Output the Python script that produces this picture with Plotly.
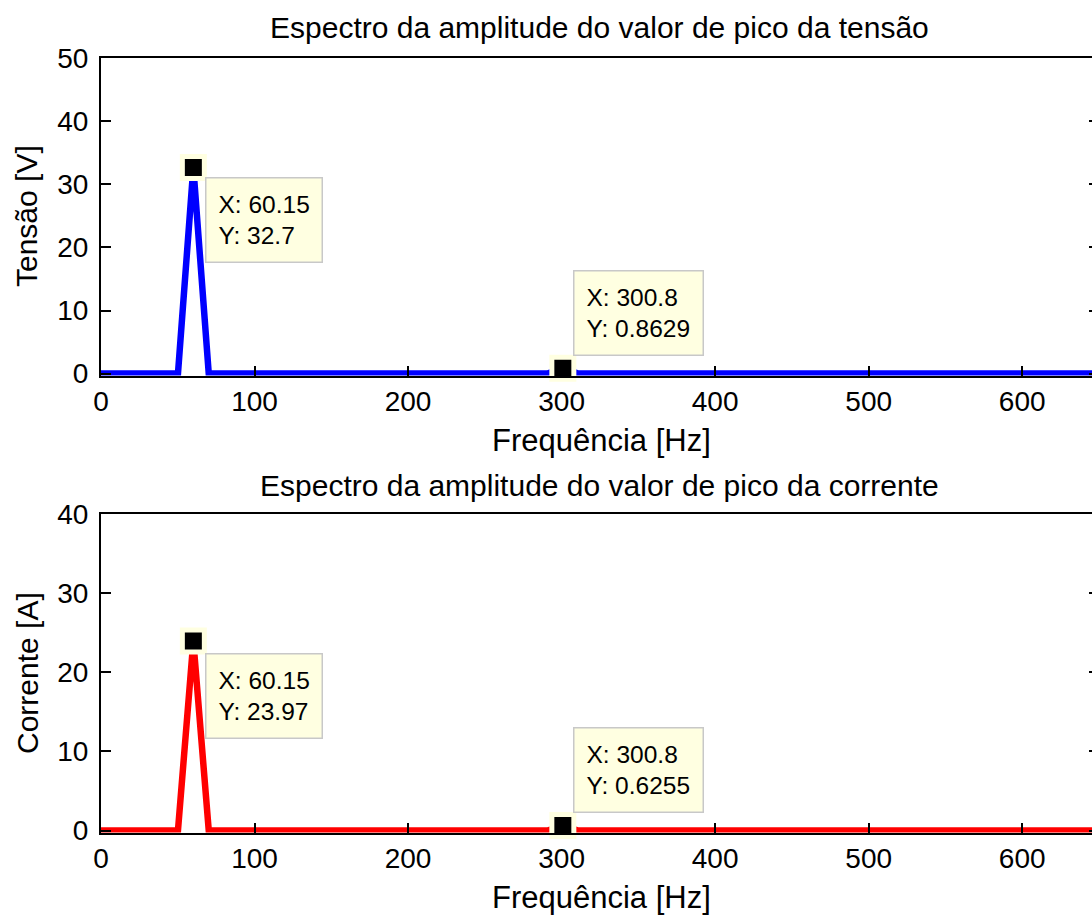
import plotly.graph_objects as go

# ---------------- data ----------------
freq_v = [0.0, 50.125, 60.15, 70.175, 290.775, 300.8, 310.825, 660.0]
amp_v = [0.0, 0.0, 32.7, 0.0, 0.0, 0.8629, 0.0, 0.0]
freq_i = [0.0, 50.125, 60.15, 70.175, 290.775, 300.8, 310.825, 660.0]
amp_i = [0.0, 0.0, 23.97, 0.0, 0.0, 0.6255, 0.0, 0.0]

tip_x_v = [60.15, 300.8]
tip_y_v = [32.7, 0.8629]
tip_x_i = [60.15, 300.8]
tip_y_i = [23.97, 0.6255]

title_v = "Espectro da amplitude do valor de pico da tensão"
title_i = "Espectro da amplitude do valor de pico da corrente"
xlabel = "Frequência [Hz]"
ylabel_v = "Tensão [V]"
ylabel_i = "Corrente [A]"

x_ticks = [0, 100, 200, 300, 400, 500, 600]
yticks_v = [0, 10, 20, 30, 40, 50]
yticks_i = [0, 10, 20, 30, 40]

# ---------------- layout geometry ----------------
W, H = 1100, 915
FONT = "Liberation Sans, Arial, Helvetica, sans-serif"
TICK_SIZE = 28
TITLE_SIZE = 30
XLABEL_SIZE = 31
YLABEL_SIZE = 30
TIP_SIZE = 24.5
TIP_BG = "#ffffe1"
TIP_EDGE = "#c8c8c8"


def px_x(p):
    return p / W


def px_y(p):
    return 1 - p / H


fig = go.Figure()

fig.add_trace(go.Scatter(x=freq_v, y=amp_v, mode="lines",
                         line=dict(color="#0000ff", width=6.5),
                         xaxis="x", yaxis="y", showlegend=False, hoverinfo="skip"))
fig.add_trace(go.Scatter(x=tip_x_v, y=tip_y_v, mode="markers",
                         marker=dict(symbol="square", size=22, color="black",
                                     line=dict(color=TIP_BG, width=5)),
                         xaxis="x", yaxis="y", showlegend=False, cliponaxis=False,
                         hoverinfo="skip"))
fig.add_trace(go.Scatter(x=freq_i, y=amp_i, mode="lines",
                         line=dict(color="#ff0000", width=6.5),
                         xaxis="x2", yaxis="y2", showlegend=False, hoverinfo="skip"))
fig.add_trace(go.Scatter(x=tip_x_i, y=tip_y_i, mode="markers",
                         marker=dict(symbol="square", size=22, color="black",
                                     line=dict(color=TIP_BG, width=5)),
                         xaxis="x2", yaxis="y2", showlegend=False, cliponaxis=False,
                         hoverinfo="skip"))

xdom = [px_x(101), px_x(1099)]
common_x = dict(range=[0, 650], tickvals=x_ticks, ticks="inside", ticklen=10,
                tickwidth=1.5, tickcolor="black", showline=True, linecolor="black",
                linewidth=2, mirror=True, showgrid=False, zeroline=False,
                automargin=False,
                tickfont=dict(family=FONT, size=TICK_SIZE, color="black"),
                ticklabelstandoff=0, domain=xdom)
common_y = dict(ticks="inside", ticklen=10, tickwidth=1.5, tickcolor="black",
                showline=True, linecolor="black", linewidth=2, mirror="ticks",
                showgrid=False, zeroline=False, automargin=False,
                tickfont=dict(family=FONT, size=TICK_SIZE, color="black"),
                ticklabelstandoff=5)

fig.update_layout(
    width=W, height=H, autosize=False,
    margin=dict(l=0, r=0, t=0, b=0, autoexpand=False),
    paper_bgcolor="white", plot_bgcolor="white",
    font=dict(family=FONT, color="black"),
    xaxis=dict(**common_x, anchor="y"),
    yaxis=dict(**common_y, anchor="x", range=[-0.3, 50], tickvals=yticks_v,
               domain=[px_y(375.5), px_y(58.3)]),
    xaxis2=dict(**common_x, anchor="y2"),
    yaxis2=dict(**common_y, anchor="x2", range=[-0.25, 40], tickvals=yticks_i,
                domain=[px_y(832.5), px_y(514.3)]),
)

ann = []
# titles and axis labels
for txt, x, y, ang, sz in [
    (title_v, 599, 28, 0, TITLE_SIZE), (title_i, 599, 486, 0, TITLE_SIZE),
    (xlabel, 601, 440, 0, XLABEL_SIZE), (xlabel, 601, 897, 0, XLABEL_SIZE),
    (ylabel_v, 27, 216, -90, YLABEL_SIZE), (ylabel_i, 27, 673, -90, YLABEL_SIZE),
]:
    ann.append(dict(text=txt, x=px_x(x), y=px_y(y), xref="paper", yref="paper",
                    xanchor="center", yanchor="middle", showarrow=False,
                    textangle=ang, font=dict(family=FONT, size=sz, color="black")))

# data tips
tips = [
    ("x", "y", tip_x_v[0], tip_y_v[0], "top", 12, -10),
    ("x", "y", tip_x_v[1], tip_y_v[1], "bottom", 10, 12),
    ("x2", "y2", tip_x_i[0], tip_y_i[0], "top", 12, -12),
    ("x2", "y2", tip_x_i[1], tip_y_i[1], "bottom", 10, 13),
]
for xr, yr, xv, yv, ya, xs, ys in tips:
    ann.append(dict(text=f"X: {xv:g}<br>Y: {yv:g}", x=xv, y=yv, xref=xr, yref=yr,
                    xanchor="left", yanchor=ya, xshift=xs, yshift=ys, align="left",
                    showarrow=False, bgcolor=TIP_BG, bordercolor=TIP_EDGE,
                    borderwidth=1.5, borderpad=12,
                    font=dict(family=FONT, size=TIP_SIZE, color="black")))
fig.update_layout(annotations=ann)

fig.write_html("out.html", config={"displayModeBar": False}, post_script=(
    "document.body.style.margin='0';document.body.style.overflow='hidden';"
    "document.documentElement.style.overflow='hidden';"))
